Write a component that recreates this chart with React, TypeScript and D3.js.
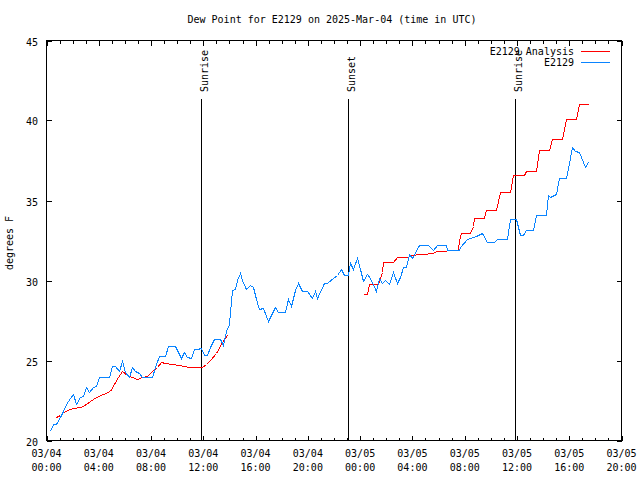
import React from "react";
import * as d3 from "d3";

// ---- Data (hours since 03/04 00:00 UTC) ----
const titleText = "Dew Point for E2129 on 2025-Mar-04 (time in UTC)";
const yLabel = "degrees F";

const xTickDates = ["03/04", "03/04", "03/04", "03/04", "03/04", "03/04", "03/05", "03/05", "03/05", "03/05", "03/05", "03/05"];
const xTickTimes = ["00:00", "04:00", "08:00", "12:00", "16:00", "20:00", "00:00", "04:00", "08:00", "12:00", "16:00", "20:00"];
const xTickHours = [0, 4, 8, 12, 16, 20, 24, 28, 32, 36, 40, 44];
const yTicks = [20, 25, 30, 35, 40, 45];

const obsHours = [
  0.25, 0.51, 0.76, 1.02, 1.28, 1.53, 1.78, 2.01, 2.29, 2.54, 2.8, 3.03, 3.28, 3.54, 3.8, 4.05, 4.3, 4.56, 4.81,
  5.02, 5.27, 5.52, 5.78, 6.03, 6.29, 6.55, 6.8, 7.05, 7.31, 7.56, 7.81, 8.07, 8.33, 8.58, 8.84, 9.09, 9.3, 9.55,
  9.8, 10.06, 10.31, 10.52, 10.77, 11.02, 11.28, 11.54, 11.79, 12.03, 12.26, 12.53, 12.8, 13.06, 13.29, 13.48,
  13.75, 13.94, 14.06, 14.21, 14.44, 14.57, 14.77, 14.95, 15.26, 15.58, 15.79, 16.04, 16.29, 16.55, 16.98, 17.24,
  17.49, 17.75, 18.26, 18.51, 18.69, 19.02, 19.27, 19.53, 19.91, 20.3, 20.55, 20.73, 21.24, 21.49, 21.95, 22.21,
  22.51, 22.76, 23.07, 23.22, 23.43, 23.73, 23.99, 24.24, 24.5, 24.75, 25.24, 25.46, 25.64, 25.9, 26.22, 26.48,
  26.79, 27.04, 27.25, 27.5, 27.71, 27.96, 28.47, 29.23, 29.54, 29.89, 30.56, 30.66, 31.53, 31.63, 32.14, 32.9,
  33.36, 33.67, 34.22, 34.48, 35.24, 35.45, 35.9, 36.21, 36.46, 36.67, 37.22, 37.43, 38.2, 38.37, 38.55, 38.96,
  39.21, 39.78, 39.97, 40.23, 40.43, 40.74, 41.04, 41.2, 41.46,
];
const obsValues = [
  20.58, 21.04, 21.04, 21.5, 21.87, 22.29, 22.67, 22.92, 22.29, 22.7, 22.79, 23.33, 23.01, 23.33, 23.41, 24.0, 24.0,
  24.0, 24.0, 24.66, 24.66, 24.37, 24.99, 24.26, 24.0, 24.58, 24.33, 24.24, 24.0, 24.0, 24.0, 24.0, 24.62, 25.29,
  25.29, 25.29, 25.91, 25.91, 25.91, 25.54, 25.16, 25.54, 25.2, 25.16, 25.74, 25.74, 25.79, 25.37, 25.37, 25.87,
  26.37, 26.37, 26.32, 25.99, 26.87, 27.28, 28.01, 29.41, 29.47, 30.03, 30.47, 30.03, 29.47, 29.72, 29.57, 28.85,
  28.22, 28.28, 27.49, 27.95, 28.36, 28.01, 28.01, 28.82, 28.43, 29.41, 29.82, 29.36, 29.36, 28.91, 29.32, 28.91,
  29.82, 29.82, 30.16, 30.32, 30.69, 30.32, 30.32, 31.07, 30.69, 31.4, 30.72, 29.97, 30.41, 30.16, 29.32, 30.17,
  29.82, 30.03, 29.78, 30.51, 29.86, 30.19, 30.82, 30.86, 31.65, 31.4, 32.23, 32.23, 31.9, 32.23, 32.23, 31.9,
  31.9, 32.07, 32.59, 32.8, 33.0, 32.38, 32.38, 32.61, 32.61, 33.84, 33.84, 32.86, 32.86, 33.15, 33.15, 34.09,
  34.09, 35.36, 35.19, 35.4, 36.4, 36.4, 37.37, 38.35, 38.1, 38.06, 37.43, 37.1, 37.43,
];

// Analysis series; null marks the gap in the data
const anaHours = [
  0.76, 1.02, 1.28, 1.78, 2.04, 2.54, 2.8, 3.31, 3.82, 4.33, 4.84, 5.14, 5.45, 5.78, 6.16, 6.55, 6.93, 7.31, 7.69,
  8.07, 8.46, 8.76, 9.09, 9.6, 10.11, 10.49, 10.87, 11.89, 12.22, 12.58, 12.99, 13.42, 13.8,
  19.0,
  24.24, 24.5, 24.7, 25.38, 25.64, 25.77, 26.53, 26.79, 27.68, 27.81, 29.59, 29.79, 31.5, 31.57, 31.75, 32.44,
  32.6, 32.7, 33.46, 33.61, 34.43, 34.57, 34.74, 35.5, 35.7, 36.51, 36.67, 37.48, 37.68, 38.45, 38.71, 39.47,
  39.72, 40.49, 40.74, 41.46,
];
const anaValues: (number | null)[] = [
  21.5, 21.62, 21.77, 21.98, 22.04, 22.08, 22.17, 22.45, 22.75, 22.92, 23.08, 23.54, 23.95, 24.33, 24.12, 23.95,
  23.87, 23.95, 24.04, 24.33, 24.62, 24.89, 24.83, 24.79, 24.74, 24.66, 24.62, 24.62, 24.79, 25.1, 25.45, 26.14,
  26.62,
  null,
  29.16, 29.16, 29.78, 29.78, 30.51, 31.13, 31.13, 31.44, 31.44, 31.61, 31.69, 31.86, 31.9, 32.53, 32.96, 32.96,
  33.42, 33.9, 33.9, 34.4, 34.4, 34.98, 35.54, 35.54, 36.59, 36.59, 36.85, 36.85, 38.15, 38.15, 38.83, 38.83,
  40.08, 40.08, 41.02, 41.02,
];

const eventNames = ["Sunrise", "Sunset", "Sunrise"];
const eventHours = [11.83, 23.06, 35.84];

const seriesNames = ["E2129 Analysis", "E2129"];
const seriesColors = ["#ff0000", "#0a84ff"];

export default function App() {
  const W = 640;
  const H = 480;
  const x = d3.scaleLinear().domain([0, 44]).range([46.5, 621.5]);
  const y = d3.scaleLinear().domain([20, 45]).range([440.5, 40.5]);
  const font = "'DejaVu Sans Mono', 'Liberation Mono', monospace";
  const fs = 10;

  const obsData = obsHours.map((h, i) => [h, obsValues[i]] as [number, number]);
  const anaData = anaHours.map((h, i) => [h, anaValues[i]] as [number, number | null]);

  const line = d3
    .line<[number, number | null]>()
    .defined((d) => d[1] !== null)
    .x((d) => Math.round(x(d[0])) + 0.5)
    .y((d) => Math.round(y(d[1] as number)) + 0.5);

  const minorHours = d3.range(0, 45, 1);

  return (
    <svg width={W} height={H} style={{ display: "block", position: "absolute", left: 0, top: 0, background: "#fff" }}>
      <rect x={0} y={0} width={W} height={H} fill="#fff" />
      {/* title */}
      <text x={332} y={23} fontFamily={font} fontSize={fs} textAnchor="middle" fill="#000">
        {titleText}
      </text>
      {/* y label */}
      <text transform={`translate(12.5,243) rotate(-90)`} fontFamily={font} fontSize={fs} textAnchor="middle" fill="#000">
        {yLabel}
      </text>

      {/* event vertical lines */}
      {eventHours.map((h, i) => {
        const px = Math.round(x(h)) + 0.5;
        return (
          <g key={"ev" + i}>
            <line x1={px} x2={px} y1={99} y2={440.5} stroke="#000" strokeWidth={1} shapeRendering="crispEdges" />
            <text transform={`translate(${px + 6},92) rotate(-90)`} fontFamily={font} fontSize={fs} fill="#000">
              {eventNames[i]}
            </text>
          </g>
        );
      })}

      {/* data lines */}
      <path d={line(anaData) || ""} fill="none" stroke={seriesColors[0]} strokeWidth={1} shapeRendering="crispEdges" />
      <path d={line(obsData) || ""} fill="none" stroke={seriesColors[1]} strokeWidth={1} shapeRendering="crispEdges" />

      {/* axes frame */}
      <rect x={46.5} y={40.5} width={575} height={400} fill="none" stroke="#000" strokeWidth={1} shapeRendering="crispEdges" />

      {/* x ticks */}
      {minorHours.map((h) => {
        const px = Math.round(x(h)) + 0.5;
        const major = h % 4 === 0;
        const len = major ? 5 : 3;
        return (
          <g key={"xt" + h}>
            <line x1={px} x2={px} y1={440.5} y2={440.5 - len} stroke="#000" shapeRendering="crispEdges" />
            <line x1={px} x2={px} y1={40.5} y2={40.5 + len} stroke="#000" shapeRendering="crispEdges" />
          </g>
        );
      })}
      {xTickHours.map((h, i) => (
        <g key={"xl" + i}>
          <text x={x(h)} y={457} fontFamily={font} fontSize={fs} textAnchor="middle" fill="#000">
            {xTickDates[i]}
          </text>
          <text x={x(h)} y={471} fontFamily={font} fontSize={fs} textAnchor="middle" fill="#000">
            {xTickTimes[i]}
          </text>
        </g>
      ))}

      {/* y ticks */}
      {yTicks.map((v) => {
        const py = Math.round(y(v)) + 0.5;
        return (
          <g key={"yt" + v}>
            <line x1={46.5} x2={51.5} y1={py} y2={py} stroke="#000" shapeRendering="crispEdges" />
            <line x1={621.5} x2={616.5} y1={py} y2={py} stroke="#000" shapeRendering="crispEdges" />
            <text x={38} y={py + 4} fontFamily={font} fontSize={fs} textAnchor="end" fill="#000">
              {v}
            </text>
          </g>
        );
      })}

      {/* legend */}
      {seriesNames.map((name, i) => {
        const ly = 51.5 + i * 11;
        return (
          <g key={"lg" + i}>
            <text x={574} y={ly + 3.5} fontFamily={font} fontSize={fs} textAnchor="end" fill="#000">
              {name}
            </text>
            <line x1={581} x2={610} y1={ly} y2={ly} stroke={seriesColors[i]} strokeWidth={1} shapeRendering="crispEdges" />
          </g>
        );
      })}
    </svg>
  );
}
